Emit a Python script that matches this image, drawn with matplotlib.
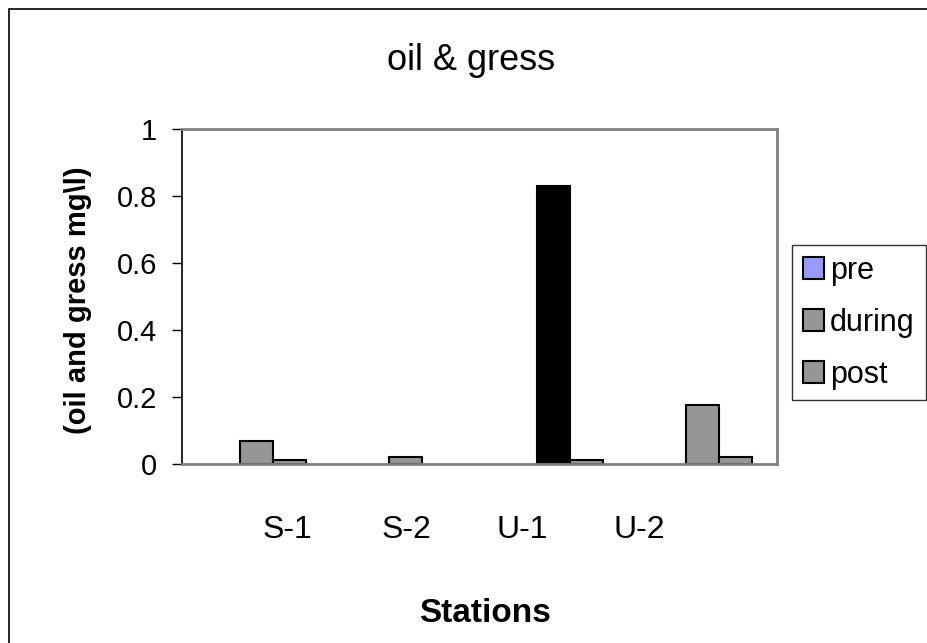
import numpy as np
import matplotlib
matplotlib.use('Agg')
import matplotlib.pyplot as plt
from matplotlib.patches import Rectangle, Patch

plt.rcParams['font.family'] = ['Liberation Sans', 'DejaVu Sans']

# station data (mg/l)
stations = ['S-1', 'S-2', 'U-1', 'U-2']
pre = [0, 0, 0, 0]
during = [0.07, 0.02, 0.83, 0.175]
post = [0.013, 0, 0.013, 0.02]
series_names = ['pre', 'during', 'post']

blue = '#9999ff'
gray = '#969696'
during_colors = [gray, gray, 'black', gray]

W, H = 928, 643
fig = plt.figure(figsize=(W / 100, H / 100), dpi=100)
ax = fig.add_axes([182 / W, 1 - 464 / H, (777 - 182) / W, (464 - 129) / H])


def edges(vals):
    # no outline on empty bars
    return [1.5 if v > 0 else 0 for v in vals]


x = np.arange(len(stations))
w = 0.222
ax.bar(x - w, pre, w, color=blue, edgecolor='black', linewidth=edges(pre))
ax.bar(x, during, w, color=during_colors, edgecolor='black', linewidth=edges(during))
ax.bar(x + w, post, w, color=gray, edgecolor='black', linewidth=edges(post))

ax.set_xlim(-0.5, len(stations) - 0.5)
ax.set_ylim(0, 1)
ax.set_yticks([0, 0.2, 0.4, 0.6, 0.8, 1])
ax.set_yticklabels(['0', '0.2', '0.4', '0.6', '0.8', '1'])
ax.set_xticks([])
ax.tick_params(axis='y', direction='out', length=7, width=1, pad=11, labelsize=21)

for side in ['top', 'right', 'bottom']:
    ax.spines[side].set_color('#808080')
    ax.spines[side].set_linewidth(2)
ax.spines['left'].set_color('black')
ax.spines['left'].set_linewidth(1.2)

ax.set_ylabel('(oil and gress mg\\l)', fontsize=21, fontweight='bold', va='center')
ax.yaxis.set_label_coords(-0.175, 0.49)

# station names under the plot
label_x = [287, 406, 522, 639]
for name, px in zip(stations, label_x):
    fig.text(px / W, 1 - 530 / H, name, fontsize=23, ha='center', va='center')

fig.text(485 / W, 1 - 613 / H, 'Stations', fontsize=24, fontweight='bold',
         ha='center', va='center')
fig.text(471 / W, 1 - 60 / H, 'oil & gress', fontsize=26, ha='center', va='center')

handles = [Patch(facecolor=c, edgecolor='black', linewidth=1.5)
           for c in [blue, gray, gray]]
leg = fig.legend(handles, series_names, loc='upper left',
                 bbox_to_anchor=(792 / W, 1 - 245 / H), fontsize=22,
                 frameon=True, fancybox=False, borderaxespad=0,
                 handlelength=0.7, handleheight=0.7, handletextpad=0.2,
                 labelspacing=0.72, borderpad=0.35)
leg.get_frame().set_edgecolor('black')
leg.get_frame().set_linewidth(1)

# chart border
fig.patches.append(Rectangle((9 / W, -0.1), 1.2, 1 - 9 / H + 0.1,
                             transform=fig.transFigure, fill=False,
                             edgecolor='black', linewidth=1.2))

fig.savefig('out.png', dpi=100)
